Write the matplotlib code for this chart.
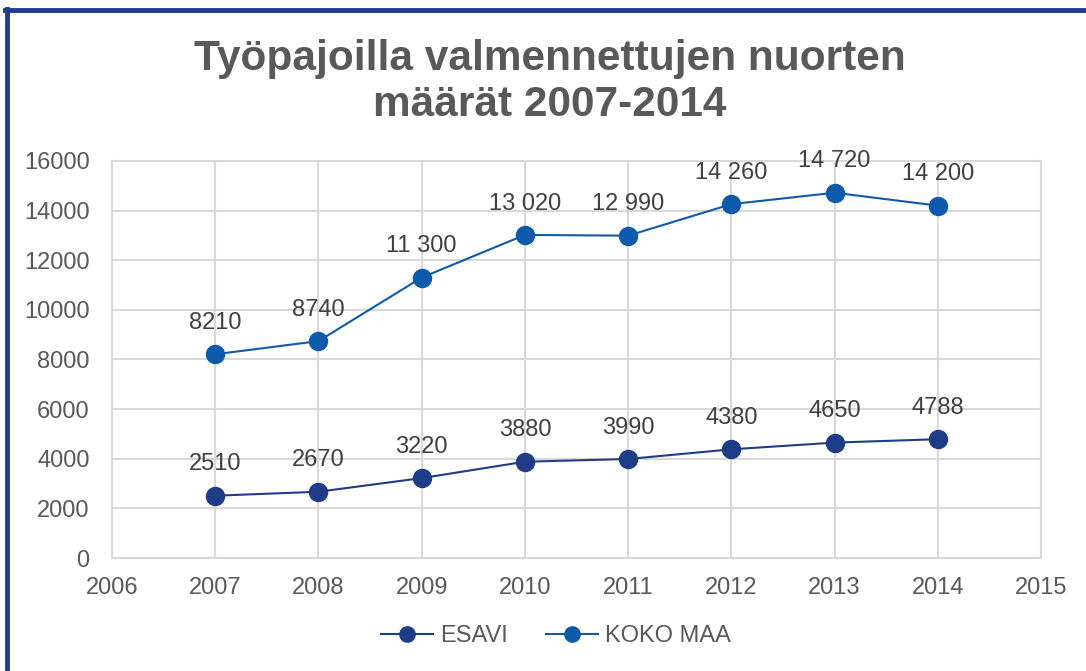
import matplotlib.pyplot as plt
from matplotlib.lines import Line2D

plt.rcParams["font.family"] = ["Liberation Sans", "DejaVu Sans"]

# Data
years = [2007, 2008, 2009, 2010, 2011, 2012, 2013, 2014]
esavi = [2510, 2670, 3220, 3880, 3990, 4380, 4650, 4788]
koko_maa = [8210, 8740, 11300, 13020, 12990, 14260, 14720, 14200]
esavi_labels = ["2510", "2670", "3220", "3880", "3990", "4380", "4650", "4788"]
koko_labels = ["8210", "8740", "11 300", "13 020", "12 990", "14 260", "14 720", "14 200"]
series_names = ["ESAVI", "KOKO MAA"]
title = "Työpajoilla valmennettujen nuorten\nmäärät 2007-2014"

c_esavi = "#1F3C88"
c_koko = "#0E5AAB"
grid_c = "#D9D9D9"
text_c = "#595959"

fig = plt.figure(figsize=(10.86, 6.71), dpi=100)
ax = fig.add_axes([0.1031, 0.1684, 0.8555, 0.5917])

ax.plot(years, esavi, color=c_esavi, lw=1.5, marker="o", ms=13,
        markeredgecolor=c_esavi, markerfacecolor=c_esavi, zorder=3)
ax.plot(years, koko_maa, color=c_koko, lw=1.5, marker="o", ms=13,
        markeredgecolor=c_koko, markerfacecolor=c_koko, zorder=3)

for x, y, s in zip(years, esavi, esavi_labels):
    ax.annotate(s, (x, y), xytext=(0, 22.5), textcoords="offset points",
                ha="center", va="center", fontsize=17, color="#404040")
for x, y, s in zip(years, koko_maa, koko_labels):
    ax.annotate(s, (x, y), xytext=(0, 22.5), textcoords="offset points",
                ha="center", va="center", fontsize=17, color="#404040")

ax.set_xlim(2006, 2015)
ax.set_ylim(0, 16000)
ax.set_xticks(range(2006, 2016))
ax.set_yticks(range(0, 16001, 2000))
ax.grid(True, color=grid_c, lw=1.5, zorder=0)
ax.set_axisbelow(True)
for sp in ax.spines.values():
    sp.set_color(grid_c)
    sp.set_linewidth(1.5)
ax.tick_params(length=0, labelsize=17, colors=text_c, pad=13.5)
ax.tick_params(axis="y", pad=16)

fig.text(0.506, 0.878, title, ha="center", va="center", fontsize=30.5,
         fontweight="bold", color=text_c, linespacing=1.2)

handles = [Line2D([], [], color=c, lw=1.5, marker="o", ms=11) for c in (c_esavi, c_koko)]
fig.legend(handles, series_names, loc="center", bbox_to_anchor=(0.512, 0.052),
           ncol=2, frameon=False, fontsize=17, labelcolor=text_c,
           handlelength=2.2, columnspacing=1.6, handletextpad=0.3)

# blue frame on the left and top
fig.add_artist(Line2D([0.0065, 0.0065], [0, 0.987], color="#1F3F8A", lw=3.5,
                      transform=fig.transFigure))
fig.add_artist(Line2D([0.0049, 1.0], [0.985, 0.985], color="#1F3F8A", lw=3.5,
                      transform=fig.transFigure))

fig.savefig("out.png", dpi=100)
